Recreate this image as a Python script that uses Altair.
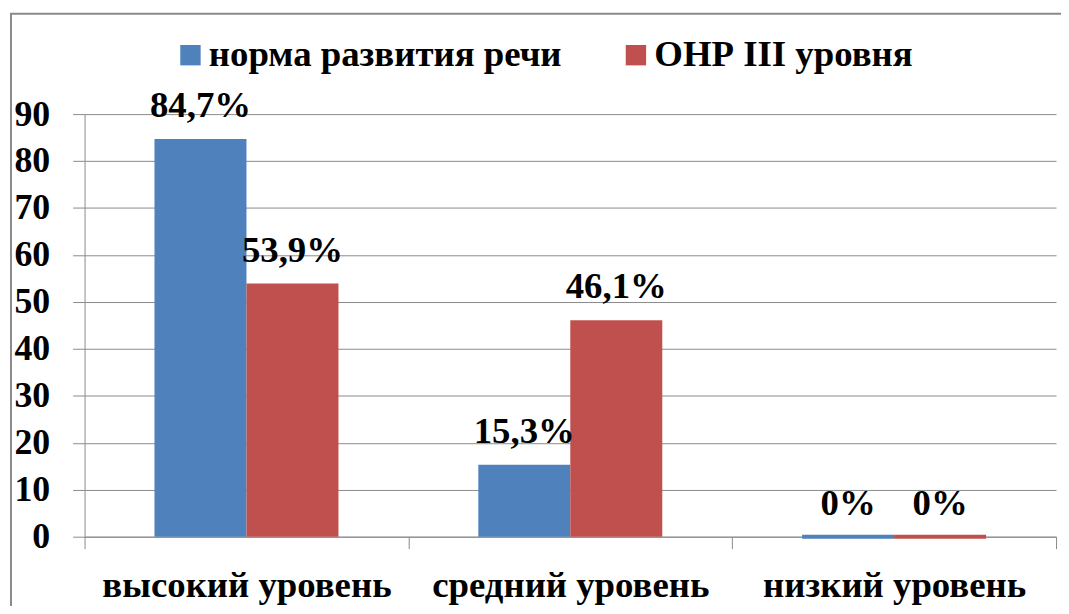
import altair as alt
import pandas as pd

categories = ["высокий уровень", "средний уровень", "низкий уровень"]
series_names = ["норма развития речи", "ОНР III уровня"]
norma = [84.7, 15.3, 0.0]
onr = [53.9, 46.1, 0.0]
label_text_norma = ["84,7%", "15,3%", "0%"]
label_text_onr = ["53,9%", "46,1%", "0%"]
colors = ["#4F81BD", "#C0504D"]

rows = []
for c, v, t in zip(categories, norma, label_text_norma):
    rows.append({"cat": c, "series": series_names[0], "value": v, "label": t})
for c, v, t in zip(categories, onr, label_text_onr):
    rows.append({"cat": c, "series": series_names[1], "value": v, "label": t})
df = pd.DataFrame(rows)

FONT = "Liberation Serif, Times New Roman, DejaVu Serif, serif"
GRID = "#8a8a8a"

x_enc = alt.X("cat:N", sort=categories, title=None,
              scale=alt.Scale(paddingInner=0, paddingOuter=0),
              axis=alt.Axis(labelAngle=0, labelFont=FONT, labelFontSize=37,
                            labelFontWeight="bold", labelColor="black",
                            labelPadding=19, labelLimit=500, tickBand="extent", tickSize=12,
                            tickColor=GRID, domainColor=GRID, grid=False))
xoff = alt.XOffset("series:N", sort=series_names,
                   scale=alt.Scale(paddingOuter=0.76, paddingInner=0))
y_enc = alt.Y("value:Q", title=None,
              scale=alt.Scale(domain=[0, 90], nice=False),
              axis=alt.Axis(values=list(range(0, 91, 10)), labelFont=FONT,
                            labelFontSize=36, labelFontWeight="bold",
                            labelColor="black", labelPadding=23, tickSize=12,
                            tickColor=GRID, domainColor=GRID, gridColor=GRID))
color_scale = alt.Scale(domain=series_names, range=colors)

bars = alt.Chart(df).mark_bar().encode(
    x=x_enc, xOffset=xoff, y=y_enc,
    color=alt.Color("series:N", scale=color_scale, sort=series_names,
                    legend=alt.Legend(title=None, orient="none", legendX=88,
                                      legendY=-78, direction="horizontal",
                                      symbolType="square", symbolSize=420,
                                      symbolStrokeWidth=0, columnPadding=56,
                                      labelFont=FONT, labelFontSize=37,
                                      labelFontWeight="bold", labelColor="black",
                                      labelOffset=0, labelLimit=600)),
    stroke=alt.Stroke("series:N", scale=color_scale, legend=None),
    strokeWidth=alt.condition("datum.value == 0", alt.value(4), alt.value(0)),
)

labels = alt.Chart(df).mark_text(font=FONT, fontSize=37, fontWeight="bold",
                                 baseline="alphabetic", dy=-22, color="black").encode(
    x=alt.X("cat:N", sort=categories), xOffset=alt.XOffset("series:N", sort=series_names),
    y="value:Q", text="label:N")

frame_df = pd.DataFrame({"f": [1]})
frame = alt.Chart(frame_df).mark_rect(fillOpacity=0, stroke="#8a8a8a", strokeWidth=2).encode(
    x=alt.value(-74), x2=alt.value(1100), y=alt.value(-101), y2=alt.value(600))

chart = alt.layer(frame, bars, labels).properties(
    width=977, height=425,
    padding={"left": 77, "top": 105, "right": 5, "bottom": 68},
    autosize=alt.AutoSizeParams(type="none"),
).configure_view(stroke=None).configure_axisY(domainColor=GRID)

chart.save("out.html", embed_options={"renderer": "svg", "actions": False})
